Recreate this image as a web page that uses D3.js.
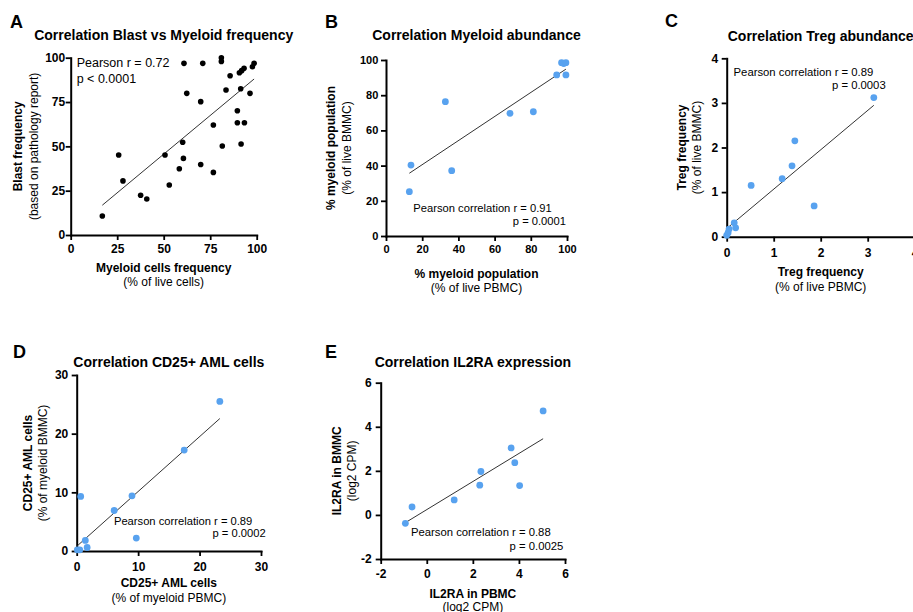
<!DOCTYPE html>
<html><head><meta charset="utf-8">
<script src="https://cdn.jsdelivr.net/npm/d3@7"></script>
<style>body{margin:0;background:#fff;overflow:hidden} svg{display:block}</style>
</head><body>
<svg id="c" width="913" height="612"></svg>
<script>
// ---------- DATA ----------
// A: Blast vs Myeloid frequency
const myeloidFreq = [17.0,25.8,28.1,37.6,40.9,50.7,53.0,58.4,60.2,60.6,60.9,62.4,69.9,69.9,71.0,76.7,76.7,81.0,81.0,81.5,83.5,85.7,89.6,89.6,90.7,91.4,91.6,91.9,93.2,93.4,96.4,97.7,98.6];
const blastFreq   = [10.7,45.1,30.5,22.4,20.3,45.1,28.2,37.4,52.3,43.2,96.8,79.9,75.2,39.8,96.8,62.0,35.3,100,97.9,50.2,81.8,89.8,70.1,63.3,91.5,82.5,51.3,92.7,94.0,63.3,79.9,94.9,96.8];
// B: Myeloid abundance
const myeloidPBMC = [12.9,13.8,32.8,36.3,68.5,81.4,94.3,97.0,98.2,99.4,99.4];
const myeloidBMMC = [25.2,40.3,76.3,37.1,69.7,70.6,91.5,98.5,98.0,98.5,91.5];
// C: Treg abundance
const tregPBMC = [0.0,0.03,0.05,0.16,0.19,0.52,1.18,1.39,1.45,1.86,3.13];
const tregBMMC = [0.03,0.09,0.17,0.31,0.20,1.15,1.30,1.59,2.15,0.69,3.12];
// D: CD25+ AML cells
const cd25PBMC = [0.1,0.5,0.65,1.4,1.7,6.1,9.0,9.7,17.5,23.3];
const cd25BMMC = [0.2,0.2,9.3,1.8,0.6,6.9,9.4,2.2,17.2,25.5];
// E: IL2RA expression
const il2raPBMC = [-0.93,-0.64,1.19,2.30,2.35,3.66,3.82,4.03,5.05];
const il2raBMMC = [-0.38,0.36,0.68,1.35,1.97,3.04,2.37,1.33,4.72];
// Ticks
const ticksA = [0,25,50,75,100];
const ticksB = [0,20,40,60,80,100];
const ticksC = [0,1,2,3,4];
const ticksD = [0,10,20,30];
const ticksE = [-2,0,2,4,6];

// ---------- DRAW ----------
const FONT = '"Liberation Sans", Arial, Helvetica, sans-serif';
const BLUE = "#58a2ef";
const svg = d3.select("#c");

function fit(xs, ys){
  const mx = d3.mean(xs), my = d3.mean(ys);
  let sxy = 0, sxx = 0;
  xs.forEach((v,i)=>{ sxy += (v-mx)*(ys[i]-my); sxx += (v-mx)*(v-mx); });
  const m = sxy/sxx; return {m, b: my - m*mx};
}

function txt(g, x, y, s, o){
  o = o || {};
  const t = g.append("text").attr("x", x).attr("y", y).text(s)
    .attr("font-family", FONT).attr("font-size", o.fs || 12)
    .attr("font-weight", o.bold ? "bold" : "normal")
    .attr("text-anchor", o.anchor || "start").attr("fill", "#000");
  if (o.rot) t.attr("transform", `rotate(-90,${x},${y})`);
  return t;
}

function panel(c){
  const g = svg.append("g");
  const x = d3.scaleLinear().domain(c.xDomain).range([c.left, c.right]);
  const y = d3.scaleLinear().domain(c.yDomain).range([c.bottom, c.top]);

  const gx = g.append("g").attr("transform", `translate(0,${c.bottom})`)
    .call(d3.axisBottom(x).tickValues(c.xTicks).tickSize(5).tickSizeOuter(0).tickPadding(c.xPad).tickFormat(d3.format("d")));
  const gy = g.append("g").attr("transform", `translate(${c.left},0)`)
    .call(d3.axisLeft(y).tickValues(c.yTicks).tickSize(5).tickSizeOuter(0).tickPadding(c.yPad).tickFormat(d3.format("d")));
  [gx, gy].forEach(a => {
    a.select(".domain").attr("stroke", "#000").attr("stroke-width", 2).attr("stroke-linecap", "square");
    a.selectAll(".tick line").attr("stroke", "#000").attr("stroke-width", 1.8);
    a.selectAll(".tick text").attr("font-family", FONT).attr("font-weight", "bold")
      .attr("font-size", c.tickFs).attr("fill", "#000");
  });
  gx.selectAll(".tick text").text(d => d < 0 ? "-" + Math.abs(d) : d);
  gy.selectAll(".tick text").text(d => d < 0 ? "-" + Math.abs(d) : d);

  // regression line across data range
  const f = fit(c.xs, c.ys);
  const x0 = d3.min(c.xs), x1 = d3.max(c.xs);
  g.append("line").attr("x1", x(x0)).attr("y1", y(f.m*x0+f.b))
    .attr("x2", x(x1)).attr("y2", y(f.m*x1+f.b))
    .attr("stroke", "#333").attr("stroke-width", 1);

  g.selectAll("circle.p").data(c.xs.map((v,i)=>[v, c.ys[i]])).join("circle")
    .attr("class", "p").attr("cx", d => x(d[0])).attr("cy", d => y(d[1]))
    .attr("r", c.r).attr("fill", c.color);

  // labels
  txt(g, c.letter[1], c.letter[2], c.letter[0], {fs: 18, bold: true});
  const cx = (c.left + c.right)/2, cy = (c.top + c.bottom)/2;
  txt(g, cx, c.titleY, c.title, {fs: 14, bold: true, anchor: "middle"});
  txt(g, cx, c.xt1Y, c.xt1, {fs: 12, bold: true, anchor: "middle"});
  txt(g, cx, c.xt2Y, c.xt2, {fs: 12, anchor: "middle"});
  txt(g, c.yt1X, cy, c.yt1, {fs: 12, bold: true, anchor: "middle", rot: true});
  txt(g, c.yt2X, cy, c.yt2, {fs: 12, anchor: "middle", rot: true});
  c.notes.forEach(n => txt(g, n[1], n[2], n[0], {fs: c.noteFs, anchor: n[3]}));
}

panel({
  xs: myeloidFreq, ys: blastFreq, xDomain: [0,100], yDomain: [0,100], xTicks: ticksA, yTicks: ticksA,
  left: 70.7, right: 256.7, top: 57.7, bottom: 235, xPad: 4.5, yPad: 0.5, tickFs: 12,
  r: 2.8, color: "#000",
  letter: ["A", 10, 27.5], title: "Correlation Blast vs Myeloid frequency", titleY: 39.5,
  xt1: "Myeloid cells frequency", xt1Y: 271.5, xt2: "(% of live cells)", xt2Y: 285.5,
  yt1: "Blast frequency", yt1X: 22.5, yt2: "(based on pathology report)", yt2X: 38,
  noteFs: 12.5, notes: [["Pearson r = 0.72", 76.7, 67, "start"], ["p < 0.0001", 76.7, 82.7, "start"]]
});

panel({
  xs: myeloidPBMC, ys: myeloidBMMC, xDomain: [0,100], yDomain: [0,100], xTicks: ticksB, yTicks: ticksB,
  left: 386, right: 567, top: 60, bottom: 236, xPad: 4.2, yPad: 2.7, tickFs: 11,
  r: 3.4, color: BLUE,
  letter: ["B", 325, 27.7], title: "Correlation Myeloid abundance", titleY: 39.5,
  xt1: "% myeloid population", xt1Y: 278, xt2: "(% of live PBMC)", xt2Y: 292,
  yt1: "% myeloid population", yt1X: 335, yt2: "(% of live BMMC)", yt2X: 350.5,
  noteFs: 11.2, notes: [["Pearson correlation r = 0.91", 551.7, 212.3, "end"], ["p = 0.0001", 566, 224.5, "end"]]
});

panel({
  xs: tregPBMC, ys: tregBMMC, xDomain: [0,4], yDomain: [0,4], xTicks: ticksC, yTicks: ticksC,
  left: 726.7, right: 914.7, top: 58.3, bottom: 236.7, xPad: 7, yPad: 3.4, tickFs: 12,
  r: 3.4, color: BLUE,
  letter: ["C", 665, 27], title: "Correlation Treg abundance", titleY: 40.5,
  xt1: "Treg frequency", xt1Y: 275.5, xt2: "(% of live PBMC)", xt2Y: 290.5,
  yt1: "Treg frequency", yt1X: 685.5, yt2: "(% of live BMMC)", yt2X: 700.5,
  noteFs: 11.3, notes: [["Pearson correlation r = 0.89", 873.3, 76, "end"], ["p = 0.0003", 885.7, 89.3, "end"]]
});

panel({
  xs: cd25PBMC, ys: cd25BMMC, xDomain: [0,30], yDomain: [0,30], xTicks: ticksD, yTicks: ticksD,
  left: 76.7, right: 261, top: 375, bottom: 551, xPad: 6.2, yPad: 3.4, tickFs: 12,
  r: 3.4, color: BLUE,
  letter: ["D", 13, 357.7], title: "Correlation CD25+ AML cells", titleY: 366.7,
  xt1: "CD25+ AML cells", xt1Y: 587, xt2: "(% of myeloid PBMC)", xt2Y: 602,
  yt1: "CD25+ AML cells", yt1X: 32, yt2: "(% of myeloid BMMC)", yt2X: 46.5,
  noteFs: 11.2, notes: [["Pearson correlation r = 0.89", 252.3, 525, "end"], ["p = 0.0002", 265.7, 537.3, "end"]]
});

panel({
  xs: il2raPBMC, ys: il2raBMMC, xDomain: [-2,6], yDomain: [-2,6], xTicks: ticksE, yTicks: ticksE,
  left: 380.7, right: 565, top: 382.7, bottom: 559, xPad: 5.8, yPad: 4, tickFs: 12,
  r: 3.4, color: BLUE,
  letter: ["E", 325, 357.7], title: "Correlation IL2RA expression", titleY: 366.7,
  xt1: "IL2RA in PBMC", xt1Y: 597.7, xt2: "(log2 CPM)", xt2Y: 610.5,
  yt1: "IL2RA in BMMC", yt1X: 341.5, yt2: "(log2 CPM)", yt2X: 356.5,
  noteFs: 11.3, notes: [["Pearson correlation r = 0.88", 550.7, 536, "end"], ["p = 0.0025", 563.3, 550, "end"]]
});
</script>
</body></html>
